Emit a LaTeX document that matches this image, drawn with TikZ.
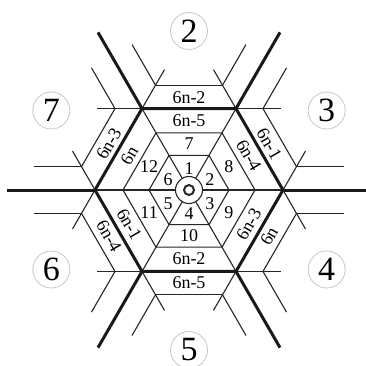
\documentclass[tikz,border=0pt]{standalone}
\usepackage{fontspec}
\setmainfont{Liberation Serif}
\usetikzlibrary{calc}
\begin{document}
\begin{tikzpicture}[x=1pt,y=1pt,
  thinline/.style={line width=1.1pt, draw=black!85},
  thickline/.style={line width=3pt, draw=black!90, line join=miter},
  cell/.style={font=\fontsize{18}{18}\selectfont, inner sep=0pt},
  zone/.style={circle, draw=black!22, line width=0.8pt, minimum size=37pt, inner sep=0pt, font=\fontsize{34}{34}\selectfont}]
\useasboundingbox (-189,-175) rectangle (177,190);
% inner hexagons
\draw[thinline] (0:40) \foreach \a in {60,120,...,300}{-- (\a:40)} -- cycle;
\draw[thinline] (0:66) \foreach \a in {60,120,...,300}{-- (\a:66)} -- cycle;
% spokes, extensions, parallel lines, outer sides
\foreach \k in {0,...,5}{
  \pgfmathsetmacro\a{60*\k}
  \coordinate (V\k) at (\a:94);
  \coordinate (P\k) at ($(V\k)+(\a+60:27)$);
  \coordinate (Q\k) at ($(V\k)+(\a-60:27)$);
  \draw[thinline] (\a:13.5) -- (V\k);
  \draw[thinline] (V\k) -- ++(\a+60:45);
  \draw[thinline] (V\k) -- ++(\a-60:45);
  \draw[thinline] (P\k) -- ++(\a:47);
  \draw[thinline] (Q\k) -- ++(\a:47);
  \draw[thickline] (V\k) -- (\a:182);
}
\foreach \k/\n in {0/1,1/2,2/3,3/4,4/5,5/0}{
  \draw[thinline] (P\k) -- (Q\n);
}
% thick hexagon
\draw[thickline] (V0) -- (V1) -- (V2) -- (V3) -- (V4) -- (V5) -- cycle;
% centre circles
\draw[thinline] (0,0) circle (13.5);
\draw[line width=2pt, draw=black!85] (0,0) circle (5);
% ring 1 labels
\node[cell] (c1) at ($(90:22)+(0,-1)$) {1};
\node[cell] (c2) at ($(30:24)+(0,-2)$) {2};
\node[cell] (c3) at ($(-30:24)+(0,-2)$) {3};
\node[cell] (c4) at ($(-90:23)+(0,-1)$) {4};
\node[cell] (c5) at ($(-150:24)+(0,-2)$) {5};
\node[cell] (c6) at ($(150:24)+(0,-2)$) {6};
% ring 2 labels
\node[cell] (c7) at (90:46) {7};
\node[cell] (c8) at (30:46) {8};
\node[cell] (c9) at (-30:46) {9};
\node[cell] (c10) at (-90:46) {10};
\node[cell] (c11) at (-150:46) {11};
\node[cell] (c12) at (150:46) {12};
% ring 3 labels (inside thick hexagon)
\node[cell] (d1) at (90:69) {6n-5};
\node[cell, rotate=-60] (d2) at (30:69) {6n-4};
\node[cell, rotate=60] (d3) at (-30:69) {6n-3};
\node[cell] (d4) at (-90:69) {6n-2};
\node[cell, rotate=-60] (d5) at (-150:69) {6n-1};
\node[cell, rotate=60] (d6) at (150:69) {6n};
% ring 4 labels (outside thick hexagon)
\node[cell] (e1) at (90:92.5) {6n-2};
\node[cell, rotate=-60] (e2) at (30:92.5) {6n-1};
\node[cell, rotate=60] (e3) at (-30:92.5) {6n};
\node[cell] (e4) at (-90:92.5) {6n-5};
\node[cell, rotate=-60] (e5) at (-150:92.5) {6n-4};
\node[cell, rotate=60] (e6) at (150:92.5) {6n-3};
% zone circles
\node[zone] (z2) at (90:159) {2};
\node[zone] (z3) at (30:159) {3};
\node[zone] (z4) at (-30:159) {4};
\node[zone] (z5) at (-90:160) {5};
\node[zone] (z6) at (-150:159) {6};
\node[zone] (z7) at (150:159) {7};
\end{tikzpicture}
\end{document}
